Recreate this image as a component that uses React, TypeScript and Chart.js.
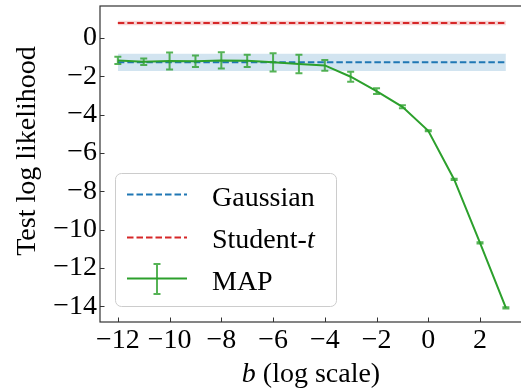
import React, { useEffect, useRef } from "react";
import { Chart, registerables } from "chart.js";

Chart.register(...registerables);

// Log-scale prior parameter b and MAP test log likelihood (mean ± error)
const bValues = [-12, -11, -10, -9, -8, -7, -6, -5, -4, -3, -2, -1, 0, 1, 2, 3];
const mapMean = [-1.17, -1.24, -1.2, -1.21, -1.17, -1.19, -1.27, -1.36, -1.43, -2.02, -2.77, -3.59, -4.84, -7.38, -10.69, -14.08];
const mapErr = [0.19, 0.17, 0.44, 0.3, 0.42, 0.32, 0.48, 0.48, 0.28, 0.26, 0.15, 0.08, 0.03, 0.03, 0.03, 0.03];

// Baselines: mean and half-width of their shaded bands
const gaussianMean = -1.27;
const gaussianSpread = 0.45;
const studentMean = 0.78;
const studentSpread = 0.12;

const xTicks = [-12, -10, -8, -6, -4, -2, 0, 2];
const yTicks = [0, -2, -4, -6, -8, -10, -12, -14];

const FONT = "Liberation Serif";
const BLUE = "#1f77b4";
const RED = "#d62728";
const GREEN = "#2ca02c";

const fmt = (v: number) => (v < 0 ? "\u2212" + Math.abs(v) : String(v));

const span = (y: number) => [
  { x: bValues[0], y },
  { x: bValues[bValues.length - 1], y },
];

const decor = {
  id: "decor",
  afterDatasetsDraw(chart: any) {
    const { ctx } = chart;
    const xs = chart.scales.x;
    const ys = chart.scales.y;
    ctx.save();
    ctx.strokeStyle = "rgba(44,160,44,0.8)";
    ctx.lineWidth = 2;
    bValues.forEach((b, i) => {
      const px = xs.getPixelForValue(b);
      const top = ys.getPixelForValue(mapMean[i] + mapErr[i]);
      const bot = ys.getPixelForValue(mapMean[i] - mapErr[i]);
      ctx.beginPath();
      ctx.moveTo(px, top);
      ctx.lineTo(px, bot);
      ctx.moveTo(px - 3.5, top);
      ctx.lineTo(px + 3.5, top);
      ctx.moveTo(px - 3.5, bot);
      ctx.lineTo(px + 3.5, bot);
      ctx.stroke();
    });
    ctx.restore();
  },
  afterDraw(chart: any) {
    const { ctx, chartArea: a } = chart;
    const xs = chart.scales.x;
    const ys = chart.scales.y;
    ctx.save();

    // frame
    ctx.strokeStyle = "#333";
    ctx.lineWidth = 1.2;
    ctx.strokeRect(a.left, a.top, a.right - a.left, a.bottom - a.top);

    // inward tick marks
    ctx.beginPath();
    yTicks.forEach((v) => {
      const py = Math.round(ys.getPixelForValue(v)) + 0.5;
      ctx.moveTo(a.left, py);
      ctx.lineTo(a.left + 4.5, py);
    });
    xTicks.forEach((v) => {
      const px = Math.round(xs.getPixelForValue(v)) + 0.5;
      ctx.moveTo(px, a.bottom);
      ctx.lineTo(px, a.bottom - 4.5);
    });
    ctx.lineWidth = 1;
    ctx.stroke();

    // axis titles
    const italic = `italic 28px ${FONT}`;
    const normal = `28px ${FONT}`;
    ctx.fillStyle = "#000";
    ctx.textBaseline = "middle";
    ctx.textAlign = "center";
    ctx.font = normal;
    ctx.save();
    ctx.translate(28, 151);
    ctx.rotate(-Math.PI / 2);
    ctx.fillText("Test log likelihood", 0, 0);
    ctx.restore();

    ctx.textBaseline = "alphabetic";
    ctx.textAlign = "left";
    ctx.font = italic;
    const wb = ctx.measureText("b").width;
    ctx.font = normal;
    const wr = ctx.measureText(" (log scale)").width;
    const cx = (a.left + a.right) / 2 - 1;
    const tx = cx - (wb + wr) / 2;
    ctx.font = italic;
    ctx.fillText("b", tx, 382);
    ctx.font = normal;
    ctx.fillText(" (log scale)", tx + wb, 382);

    // legend
    const lx = 115.5, ly = 173.5, lw = 221, lh = 133;
    ctx.beginPath();
    ctx.roundRect(lx, ly, lw, lh, 6);
    ctx.fillStyle = "rgba(255,255,255,0.8)";
    ctx.fill();
    ctx.strokeStyle = "#cccccc";
    ctx.lineWidth = 1;
    ctx.stroke();

    const h0 = 127, h1 = 187, textX = 212;
    ctx.lineWidth = 2;
    ctx.setLineDash([6.5, 3]);
    ctx.strokeStyle = BLUE;
    ctx.beginPath();
    ctx.moveTo(h0, 194.5);
    ctx.lineTo(h1, 194.5);
    ctx.stroke();
    ctx.strokeStyle = RED;
    ctx.beginPath();
    ctx.moveTo(h0, 237.5);
    ctx.lineTo(h1, 237.5);
    ctx.stroke();
    ctx.setLineDash([]);
    ctx.strokeStyle = GREEN;
    ctx.beginPath();
    ctx.moveTo(h0, 278.5);
    ctx.lineTo(h1, 278.5);
    ctx.stroke();
    const mx = (h0 + h1) / 2;
    ctx.strokeStyle = "rgba(44,160,44,0.8)";
    ctx.beginPath();
    ctx.moveTo(mx, 264);
    ctx.lineTo(mx, 294);
    ctx.moveTo(mx - 3.5, 264);
    ctx.lineTo(mx + 3.5, 264);
    ctx.moveTo(mx - 3.5, 294);
    ctx.lineTo(mx + 3.5, 294);
    ctx.stroke();

    ctx.fillStyle = "#000";
    ctx.font = normal;
    ctx.fillText("Gaussian", textX, 205.5);
    ctx.fillText("Student-", textX, 247.5);
    const ws = ctx.measureText("Student-").width;
    ctx.font = italic;
    ctx.fillText("t", textX + ws, 247.5);
    ctx.font = normal;
    ctx.fillText("MAP", textX, 289.5);

    ctx.restore();
  },
};

export default function App() {
  const ref = useRef<HTMLCanvasElement | null>(null);

  useEffect(() => {
    if (!ref.current) return;
    const chart = new Chart(ref.current, {
      type: "line",
      data: {
        datasets: [
          {
            label: "Gaussian",
            data: span(gaussianMean),
            borderColor: BLUE,
            borderWidth: 2,
            borderDash: [6.5, 3],
            pointRadius: 0,
            fill: false,
            order: 3,
          },
          {
            label: "Student-t",
            data: span(studentMean),
            borderColor: RED,
            borderWidth: 2,
            borderDash: [6.5, 3],
            pointRadius: 0,
            fill: false,
            order: 3,
          },
          {
            label: "MAP",
            data: bValues.map((b, i) => ({ x: b, y: mapMean[i] })),
            borderColor: GREEN,
            borderWidth: 2,
            pointRadius: 0,
            fill: false,
            tension: 0,
            order: 1,
          },
          {
            label: "gaussian-upper",
            data: span(gaussianMean + gaussianSpread),
            borderColor: "rgba(0,0,0,0)",
            borderWidth: 0,
            pointRadius: 0,
            backgroundColor: "rgba(31,119,180,0.2)",
            fill: "+1",
            order: 5,
          },
          {
            label: "gaussian-lower",
            data: span(gaussianMean - gaussianSpread),
            borderColor: "rgba(0,0,0,0)",
            borderWidth: 0,
            pointRadius: 0,
            fill: false,
            order: 5,
          },
          {
            label: "student-upper",
            data: span(studentMean + studentSpread),
            borderColor: "rgba(0,0,0,0)",
            borderWidth: 0,
            pointRadius: 0,
            backgroundColor: "rgba(214,39,40,0.2)",
            fill: "+1",
            order: 5,
          },
          {
            label: "student-lower",
            data: span(studentMean - studentSpread),
            borderColor: "rgba(0,0,0,0)",
            borderWidth: 0,
            pointRadius: 0,
            fill: false,
            order: 5,
          },
        ],
      },
      options: {
        animation: false,
        responsive: false,
        layout: { padding: { top: 6, right: 2, left: 0, bottom: 0 } },
        plugins: {
          legend: { display: false },
          tooltip: { enabled: false },
        },
        scales: {
          x: {
            type: "linear",
            min: -12.69,
            max: 3.7,
            grid: { display: false, drawTicks: false },
            border: { display: false },
            afterBuildTicks: (s: any) => {
              s.ticks = xTicks.map((v) => ({ value: v }));
            },
            afterFit: (s: any) => {
              s.height = 67;
              s.paddingLeft = 0;
              s.paddingRight = 0;
            },
            ticks: {
              autoSkip: false,
              maxRotation: 0,
              padding: 2,
              color: "#000",
              font: { family: FONT, size: 28 },
              callback: (v: any) => fmt(Number(v)),
            },
          },
          y: {
            type: "linear",
            min: -14.82,
            max: 1.67,
            grid: { display: false, drawTicks: false },
            border: { display: false },
            afterBuildTicks: (s: any) => {
              s.ticks = yTicks.map((v) => ({ value: v }));
            },
            afterFit: (s: any) => {
              s.width = 100;
              s.paddingTop = 0;
              s.paddingBottom = 0;
            },
            ticks: {
              autoSkip: false,
              padding: 3,
              color: "#000",
              font: { family: FONT, size: 28 },
              callback: (v: any) => fmt(Number(v)),
            },
          },
        },
      },
      plugins: [decor],
    });
    return () => chart.destroy();
  }, []);

  return (
    <div
      style={{
        position: "fixed",
        left: 0,
        top: 0,
        width: 521,
        height: 389,
        overflow: "hidden",
        background: "#fff",
      }}
    >
      <canvas ref={ref} width={526} height={389} style={{ width: 526, height: 389 }} />
    </div>
  );
}
